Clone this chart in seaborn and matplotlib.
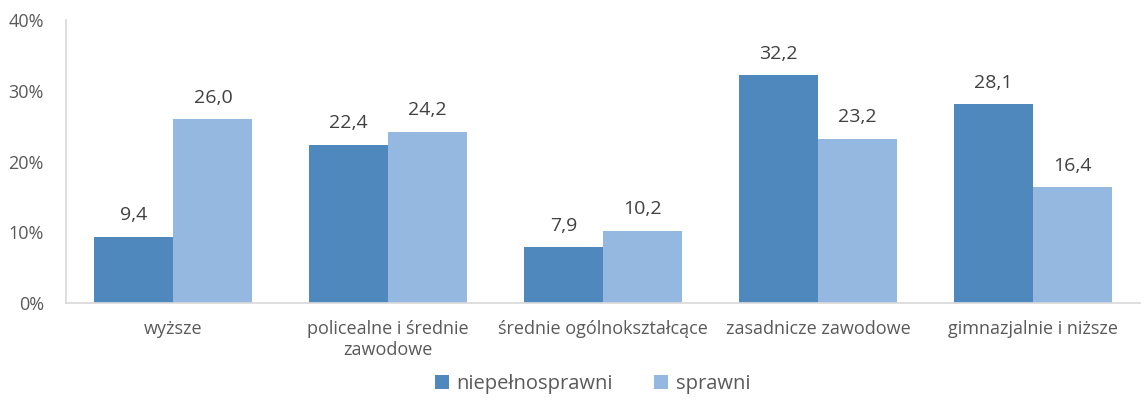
import matplotlib.pyplot as plt
import seaborn as sns
import pandas as pd
from matplotlib.ticker import FuncFormatter

categories = ["wyższe", "policealne i średnie\nzawodowe", "średnie ogólnokształcące",
              "zasadnicze zawodowe", "gimnazjalnie i niższe"]
niepelnosprawni = [9.4, 22.4, 7.9, 32.2, 28.1]
sprawni = [26.0, 24.2, 10.2, 23.2, 16.4]
series = ["niepełnosprawni", "sprawni"]
colors = ["#4F88BC", "#95B8E0"]

df = pd.DataFrame({
    "kat": categories * 2,
    "val": niepelnosprawni + sprawni,
    "grupa": [series[0]] * 5 + [series[1]] * 5,
})

sns.set_theme(style="white")
plt.rcParams['font.family'] = ['Open Sans', 'DejaVu Sans']
text_col = "#595959"

fig = plt.figure(figsize=(11.44, 4.03), dpi=100)
ax = fig.add_axes([0.0577, 0.248, 0.939, 0.702])

sns.barplot(data=df, x="kat", y="val", hue="grupa", palette=colors,
            width=0.735, gap=0, saturation=1, linewidth=0, ax=ax, legend=True)

for c in ax.containers:
    ax.bar_label(c, labels=[f"{v:.1f}".replace(".", ",") for v in c.datavalues],
                 padding=9, fontsize=14, color="#404040")

ax.set_ylim(0, 40)
ax.set_yticks([0, 10, 20, 30, 40])
ax.yaxis.set_major_formatter(FuncFormatter(lambda v, p: f"{int(v)}%"))
ax.set_xlim(-0.5, 4.5)
ax.set_xlabel("")
ax.set_ylabel("")
ax.tick_params(axis="both", length=0, labelsize=13, colors=text_col)
ax.tick_params(axis="x", pad=12)
ax.tick_params(axis="y", pad=16)
for s in ["top", "right"]:
    ax.spines[s].set_visible(False)
ax.spines["left"].set_color("#D9D9D9")
ax.spines["bottom"].set_color("#D9D9D9")

ax.legend(loc="lower center", bbox_to_anchor=(0.49, -0.385), ncol=2, frameon=False,
          fontsize=14.5, handlelength=0.7, handleheight=0.7, handletextpad=0.4,
          columnspacing=2.0, labelcolor=text_col)

fig.savefig("out.png", dpi=100)
